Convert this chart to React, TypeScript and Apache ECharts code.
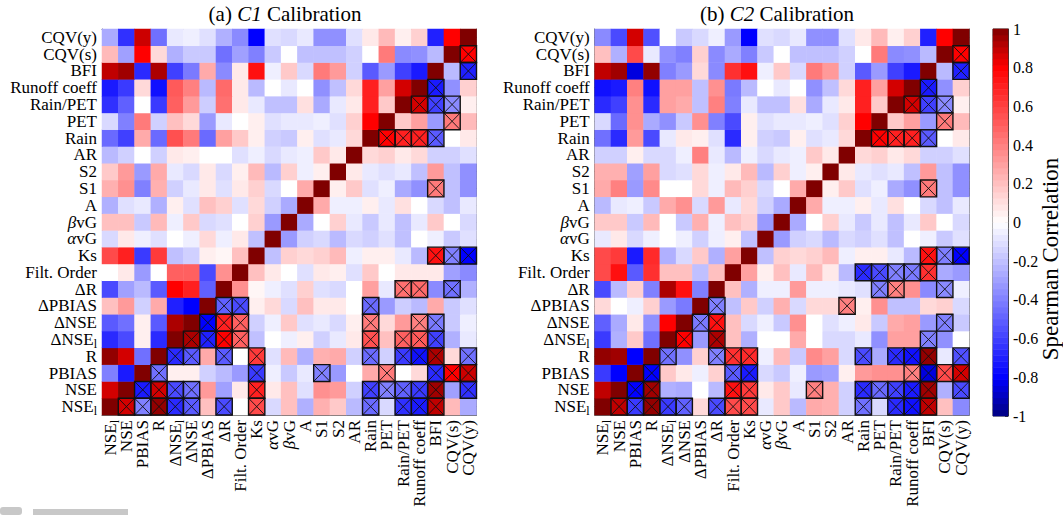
import React, { useEffect, useRef } from 'react';
import * as echarts from 'echarts';

const FONT = "'Liberation Serif', 'Times New Roman', serif";

// Variable order: x left -> right, y bottom -> top
const variables = [
  'NSE_l', 'NSE', 'PBIAS', 'R', 'ΔNSE_l', 'ΔNSE', 'ΔPBIAS', 'ΔR', 'Filt. Order', 'Ks',
  'αvG', 'βvG', 'A', 'S1', 'S2', 'AR', 'Rain', 'PET', 'Rain/PET', 'Runoff coeff', 'BFI',
  'CQV(s)', 'CQV(y)',
];

// Lower triangle of the Spearman correlation matrix, row i holds columns 0..i-1
const c1Lower: number[][] = [
  [0.87],
  [-0.4, -0.72],
  [0.97, 0.87, -0.45],
  [-0.67, -0.57, 0.05, -0.67],
  [-0.52, -0.45, 0.05, -0.52, 0.93],
  [0.2, 0.32, -0.15, 0.27, -0.7, -0.8],
  [-0.57, -0.3, -0.22, -0.52, 0.8, 0.7, -0.5],
  [0, 0.07, -0.32, 0, 0.5, 0.5, -0.57, 0.35],
  [0.57, 0.7, -0.62, 0.62, -0.2, -0.15, 0.05, 0.03, 0.2],
  [-0.12, 0.07, -0.05, -0.1, 0, -0.05, 0.12, -0.05, 0.07, -0.2],
  [0.2, 0.2, -0.17, 0.22, -0.05, 0.17, -0.12, -0.1, 0, 0.15, -0.32],
  [-0.25, -0.1, -0.07, -0.25, 0.05, -0.1, 0.2, 0.15, -0.1, 0.12, -0.15, -0.27],
  [0.25, 0.35, -0.4, 0.25, -0.15, -0.07, 0.07, -0.1, 0.07, 0.15, -0.12, 0, 0.27],
  [0.17, 0.32, -0.32, 0.27, -0.07, -0.12, 0.07, -0.12, 0.05, 0.22, -0.22, 0.15, -0.05, 0.05],
  [-0.22, -0.15, 0, -0.15, 0.07, 0.05, 0, 0, -0.1, -0.05, -0.12, -0.07, -0.05, 0.17, 0.07],
  [-0.47, -0.6, 0.27, -0.47, 0.55, 0.42, -0.47, 0.3, 0.17, 0.05, -0.15, -0.17, 0.05, -0.1, -0.07, 0.12],
  [-0.12, -0.4, 0.42, -0.15, 0.2, 0.12, -0.32, -0.07, 0, 0.05, -0.1, -0.07, -0.07, -0.05, -0.1, 0.15, 0.8],
  [-0.65, -0.5, 0, -0.62, 0.5, 0.32, -0.16, 0.45, 0.07, -0.07, -0.2, -0.2, 0.1, -0.27, -0.07, 0.07, 0.7, 0.17],
  [-0.72, -0.62, 0.12, -0.75, 0.52, 0.4, -0.22, 0.47, 0.07, -0.22, 0, -0.07, 0, -0.35, -0.2, 0.12, 0.7, 0.3, 0.87],
  [0.9, 0.95, -0.67, 0.93, -0.6, -0.42, 0.27, -0.37, 0.07, 0.75, -0.05, 0.17, -0.12, 0.42, 0.32, -0.15, -0.52, -0.32, -0.6, -0.72],
  [0.22, -0.3, 0.8, 0.12, -0.25, -0.17, -0.17, -0.45, -0.3, -0.4, -0.17, 0, -0.2, -0.2, -0.2, -0.15, 0, 0.42, -0.37, -0.35, -0.22],
  [-0.27, -0.65, 0.88, -0.45, -0.07, -0.05, -0.1, -0.25, -0.37, -0.8, -0.1, -0.12, -0.07, -0.35, -0.35, -0.1, 0.07, 0.22, 0.05, 0.15, -0.7, 0.8],
];

const c2Lower: number[][] = [
  [0.9],
  [-0.62, -0.8],
  [0.97, 0.95, -0.8],
  [-0.62, -0.25, 0.17, -0.45],
  [-0.5, -0.27, 0.07, -0.35, 0.8],
  [0.12, 0, -0.05, 0.15, -0.32, -0.42],
  [-0.57, -0.22, 0.15, -0.4, 0.93, 0.75, -0.4],
  [0.57, 0.75, -0.52, 0.65, 0.2, 0.2, -0.2, 0.2],
  [0.57, 0.62, -0.72, 0.67, -0.25, -0.12, 0.17, -0.25, 0.3],
  [-0.07, 0.07, -0.12, -0.05, 0, -0.05, -0.15, -0.05, 0.05, -0.2],
  [0.17, 0.17, -0.17, 0.22, 0, -0.17, 0.25, -0.05, 0.2, 0.15, -0.32],
  [-0.22, -0.07, -0.05, -0.17, 0.27, 0.35, -0.12, 0.32, -0.07, 0.12, -0.15, -0.27],
  [0.27, 0.4, -0.32, 0.37, 0, 0, 0.12, -0.05, 0.22, 0.15, -0.12, 0, 0.27],
  [0.25, 0.25, -0.3, 0.3, -0.12, -0.1, 0.12, -0.05, 0.07, 0.22, -0.22, 0.15, -0.05, 0.05],
  [-0.15, -0.15, 0.05, -0.12, -0.12, -0.05, 0.4, -0.07, -0.22, -0.05, -0.12, -0.07, -0.05, 0.17, 0.07],
  [-0.45, -0.67, 0.32, -0.57, -0.07, 0.07, 0.05, -0.1, -0.67, 0.05, -0.15, -0.17, 0.05, -0.1, -0.07, 0.12],
  [-0.12, -0.47, 0.35, -0.27, -0.35, -0.17, 0.35, -0.4, -0.57, 0.05, -0.1, -0.07, -0.07, -0.05, -0.1, 0.15, 0.8],
  [-0.67, -0.6, 0.35, -0.67, 0.3, 0.27, -0.2, 0.4, -0.4, -0.07, -0.2, -0.2, 0.1, -0.27, -0.07, 0.07, 0.7, 0.17],
  [-0.75, -0.72, 0.4, -0.75, 0.3, 0.3, -0.2, 0.35, -0.42, -0.22, 0, -0.07, 0, -0.35, -0.2, 0.12, 0.7, 0.3, 0.87],
  [0.9, 0.95, -0.85, 0.97, -0.4, -0.32, 0.12, -0.37, 0.65, 0.75, -0.05, 0.17, -0.12, 0.42, 0.32, -0.15, -0.52, -0.32, -0.6, -0.72],
  [0.2, -0.25, 0.57, -0.07, -0.35, -0.4, 0.15, -0.37, -0.27, -0.4, -0.17, 0, -0.2, -0.2, -0.2, -0.15, 0, 0.42, -0.37, -0.35, -0.22],
  [-0.37, -0.57, 0.87, -0.55, 0, -0.17, -0.12, -0.05, -0.32, -0.8, -0.1, -0.12, -0.07, -0.35, -0.35, -0.1, 0.07, 0.22, 0.05, 0.15, -0.7, 0.8],
];

// Significant pairs [row i, column j] (j > i), drawn as crossed cells
const c1Crosses: number[][] = [
  [21, 22], [20, 22], [19, 20], [18, 19], [18, 20], [18, 21], [17, 21], [16, 17], [16, 18], [16, 19], [16, 20], [13, 20],
  [9, 20], [9, 21], [9, 22],
  [7, 18], [7, 19], [7, 21],
  [6, 7], [6, 8], [6, 16],
  [5, 6], [5, 7], [5, 8], [5, 16], [5, 19], [5, 20],
  [4, 5], [4, 6], [4, 7], [4, 8], [4, 16], [4, 18], [4, 19], [4, 20],
  [3, 4], [3, 5], [3, 7], [3, 9], [3, 16], [3, 18], [3, 19], [3, 20], [3, 22],
  [2, 3], [2, 9], [2, 13], [2, 17], [2, 20], [2, 21], [2, 22],
  [1, 2], [1, 3], [1, 4], [1, 5], [1, 9], [1, 16], [1, 17], [1, 18], [1, 19], [1, 20], [1, 22],
  [0, 1], [0, 2], [0, 3], [0, 4], [0, 5], [0, 7], [0, 9], [0, 16], [0, 18], [0, 19], [0, 20],
];

const c2Crosses: number[][] = [
  [21, 22], [20, 22], [19, 20], [18, 19], [18, 20], [18, 21], [17, 21], [16, 17], [16, 18], [16, 19], [16, 20], [13, 20],
  [9, 20], [9, 21], [9, 22],
  [8, 16], [8, 17], [8, 18], [8, 19], [8, 20],
  [7, 17], [7, 18], [7, 21],
  [6, 7], [6, 15],
  [5, 6], [5, 7], [5, 21],
  [4, 5], [4, 7], [4, 20],
  [3, 4], [3, 7], [3, 8], [3, 9], [3, 16], [3, 18], [3, 19], [3, 20], [3, 22],
  [2, 3], [2, 8], [2, 9], [2, 19], [2, 20], [2, 21], [2, 22],
  [1, 2], [1, 3], [1, 8], [1, 9], [1, 13], [1, 16], [1, 17], [1, 18], [1, 19], [1, 20], [1, 22],
  [0, 1], [0, 2], [0, 3], [0, 4], [0, 5], [0, 7], [0, 8], [0, 9], [0, 16], [0, 18], [0, 19], [0, 20],
];

const colorStops = [
  '#000080', '#0000ff', '#4040ff', '#8080ff', '#c0c0ff', '#ffffff',
  '#ffc0c0', '#ff8080', '#ff4040', '#ff0000', '#800000',
];

const panelTitles = ['(a) {i|C1} Calibration', '(b) {i|C2} Calibration'];
const colorbarTitle = 'Spearman Correlation';

function buildHeat(lower: number[][]) {
  const out: number[][] = [];
  const n = variables.length;
  for (let i = 0; i < n; i++) {
    for (let j = 0; j < n; j++) {
      const v = i === j ? 1 : i > j ? lower[i - 1][j] : lower[j - 1][i];
      out.push([j, i, v]);
    }
  }
  return out;
}

function buildCross(pairs: number[][]) {
  return pairs.map(([i, j]) => [j, i]);
}

const rich = {
  n: { fontSize: 17, fontFamily: FONT, color: '#000' },
  it: { fontSize: 17, fontFamily: FONT, fontStyle: 'italic', color: '#000' },
  sub: { fontSize: 12, fontFamily: FONT, color: '#000', padding: [9, 0, 0, 0] },
};

function fmtLabel(v: string) {
  if (v.endsWith('_l')) return '{n|' + v.slice(0, -2) + '}{sub|l}';
  if (v === 'αvG') return '{it|α}{n|vG}';
  if (v === 'βvG') return '{it|β}{n|vG}';
  return '{n|' + v + '}';
}

function makeAxes(gridIndex: number) {
  const line = { show: true, lineStyle: { color: '#6a6a6a', width: 1 } };
  const tick = { show: true, inside: true, alignWithLabel: true, length: 3, lineStyle: { color: '#333', width: 1 } };
  const xs = [
    {
      type: 'category', gridIndex, data: variables, position: 'bottom',
      axisLine: line, axisTick: tick, splitLine: { show: false },
      axisLabel: { rotate: 90, interval: 0, margin: 5, fontSize: 17, fontFamily: FONT, color: '#000', formatter: fmtLabel, rich },
    },
    {
      type: 'category', gridIndex, data: variables, position: 'top',
      axisLine: line, axisTick: tick, splitLine: { show: false }, axisLabel: { show: false },
    },
  ];
  const ys = [
    {
      type: 'category', gridIndex, data: variables, position: 'left',
      axisLine: line, axisTick: tick, splitLine: { show: false },
      axisLabel: { interval: 0, margin: 5, fontSize: 17, fontFamily: FONT, color: '#000', formatter: fmtLabel, rich },
    },
    {
      type: 'category', gridIndex, data: variables, position: 'right',
      axisLine: line, axisTick: tick, splitLine: { show: false }, axisLabel: { show: false },
    },
  ];
  return { xs, ys };
}

function crossRender(params: any, api: any) {
  const c = api.coord([api.value(0), api.value(1)]);
  const s = api.size([1, 1]);
  const w = s[0];
  const h = s[1];
  const x0 = c[0] - w / 2;
  const y0 = c[1] - h / 2;
  return {
    type: 'group',
    children: [
      { type: 'rect', shape: { x: x0, y: y0, width: w, height: h }, style: { fill: 'none', stroke: '#111', lineWidth: 1.4 } },
      { type: 'line', shape: { x1: x0, y1: y0, x2: x0 + w, y2: y0 + h }, style: { stroke: '#111', lineWidth: 0.9 } },
      { type: 'line', shape: { x1: x0 + w, y1: y0, x2: x0, y2: y0 + h }, style: { stroke: '#111', lineWidth: 0.9 } },
    ],
  };
}

export default function App() {
  const ref = useRef<HTMLDivElement>(null);
  useEffect(() => {
    if (!ref.current) return;
    const chart = echarts.init(ref.current, null, { renderer: 'svg' });
    const a0 = makeAxes(0);
    const a1 = makeAxes(1);
    const bins = Array.from({ length: 64 }, (_, k) => String(k));
    const barData = bins.map((_, k) => [0, k, -1 + ((k + 0.5) * 2) / 64]);
    const titleRich = { i: { fontStyle: 'italic', fontSize: 21, fontFamily: FONT, fill: '#000' } };

    const option: any = {
      animation: false,
      backgroundColor: '#fff',
      grid: [
        { left: 102, top: 29, width: 374.5, height: 386 },
        { left: 594.7, top: 29, width: 374.5, height: 386 },
        { left: 993, top: 29, width: 15, height: 387, show: true, borderColor: '#333', borderWidth: 1 },
      ],
      xAxis: [
        ...a0.xs, ...a1.xs,
        { type: 'category', gridIndex: 2, data: ['cb'], show: false },
      ],
      yAxis: [
        ...a0.ys, ...a1.ys,
        { type: 'category', gridIndex: 2, data: bins, show: false },
        {
          type: 'value', gridIndex: 2, min: -1, max: 1, interval: 0.2, position: 'right',
          axisLine: { show: true, lineStyle: { color: '#333' } },
          axisTick: { show: true, inside: true, length: 3, lineStyle: { color: '#333' } },
          splitLine: { show: false },
          axisLabel: { fontSize: 16, fontFamily: FONT, color: '#000', margin: 5 },
        },
      ],
      visualMap: {
        show: false, type: 'continuous', min: -1, max: 1, dimension: 2,
        seriesIndex: [0, 2, 4], inRange: { color: colorStops },
      },
      series: [
        { type: 'heatmap', xAxisIndex: 0, yAxisIndex: 0, data: buildHeat(c1Lower), itemStyle: { borderWidth: 0 }, emphasis: { disabled: true }, silent: true },
        { type: 'custom', xAxisIndex: 0, yAxisIndex: 0, data: buildCross(c1Crosses), renderItem: crossRender, z: 10, silent: true },
        { type: 'heatmap', xAxisIndex: 2, yAxisIndex: 2, data: buildHeat(c2Lower), itemStyle: { borderWidth: 0 }, emphasis: { disabled: true }, silent: true },
        { type: 'custom', xAxisIndex: 2, yAxisIndex: 2, data: buildCross(c2Crosses), renderItem: crossRender, z: 10, silent: true },
        { type: 'heatmap', xAxisIndex: 4, yAxisIndex: 4, data: barData, itemStyle: { borderWidth: 0 }, emphasis: { disabled: true }, silent: true },
      ],
      graphic: [
        {
          type: 'text', x: 285, y: 14,
          style: {
            text: panelTitles[0], fontSize: 21, fontFamily: FONT, fill: '#000', align: 'center', verticalAlign: 'middle',
            rich: titleRich,
          },
        },
        {
          type: 'text', x: 777, y: 14,
          style: {
            text: panelTitles[1], fontSize: 21, fontFamily: FONT, fill: '#000', align: 'center', verticalAlign: 'middle',
            rich: titleRich,
          },
        },
        {
          type: 'text', x: 1050, y: 259, rotation: Math.PI / 2,
          style: { text: colorbarTitle, fontSize: 23, fontFamily: FONT, fill: '#000', align: 'center', verticalAlign: 'middle' },
        },
        { type: 'rect', shape: { x: 0, y: 507, width: 22, height: 8, r: 3 }, style: { fill: '#c8c8c8' } },
        { type: 'rect', shape: { x: 33, y: 509, width: 95, height: 6 }, style: { fill: '#c8c8c8' } },
      ],
    };
    chart.setOption(option);
    return () => chart.dispose();
  }, []);
  return <div ref={ref} style={{ position: 'fixed', left: 0, top: 0, width: 1063, height: 515, background: '#fff' }} />;
}
